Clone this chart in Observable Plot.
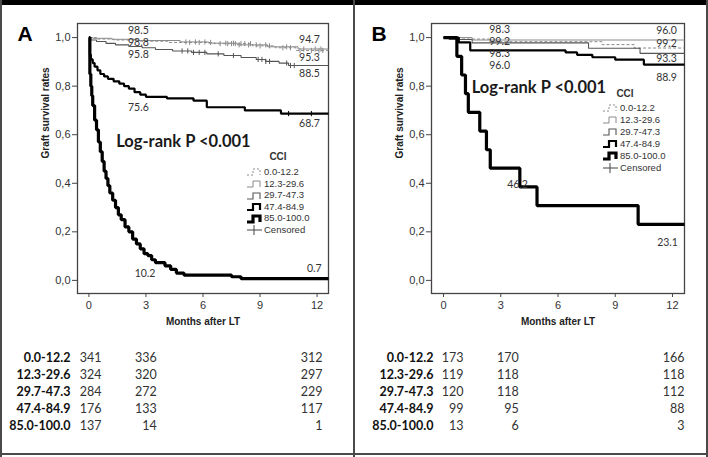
<!DOCTYPE html>
<html><head><meta charset="utf-8">
<script src="https://cdn.jsdelivr.net/npm/d3@7"></script>
<script src="https://cdn.jsdelivr.net/npm/@observablehq/plot@0.6"></script>
<style>
body{margin:0;background:#fff;}
#wrap{position:relative;width:708px;height:457px;overflow:hidden;background:#fff;font-family:"Liberation Sans",Arial,sans-serif;}
.lg{position:absolute;font-size:9.5px;color:#333;line-height:12px;height:12px;white-space:nowrap;}
.lg svg{vertical-align:middle;margin-right:1px;}
</style></head><body><div id="wrap"></div>
<script>
// ---------- data ----------
const groups = ["0.0-12.2","12.3-29.6","29.7-47.3","47.4-84.9","85.0-100.0"];
const monthTicks = [0,3,6,9,12];
const survTicks = [0,0.2,0.4,0.6,0.8,1.0];
const riskMonths = [0,3,12];

// Panel A survival step curves (months, survival)
const aT1 = [0,0.4,1.3,2.6,4.2,6.6,8.6,9.8,10.9,12.6];
const aS1 = [1.0,0.994,0.99,0.985,0.98,0.975,0.966,0.958,0.947,0.947];
const aT2 = [0,0.2,1.2,2.5,4.8,6.3,7.8,9.4,11.0,12.6];
const aS2 = [1.0,0.997,0.993,0.988,0.982,0.977,0.97,0.962,0.953,0.953];
const aT3 = [0,0.1,0.4,0.9,1.4,2.1,2.8,3.5,4.4,5.4,6.2,7.1,8.0,8.8,9.3,10.0,10.5,12.6];
const aS3 = [1.0,0.99,0.984,0.976,0.97,0.963,0.958,0.951,0.945,0.939,0.933,0.926,0.918,0.91,0.902,0.895,0.885,0.885];
const aT4 = [0,0.05,0.1,0.2,0.3,0.45,0.6,0.8,1.0,1.3,1.6,1.85,2.1,2.4,2.7,3.0,4.1,5.5,6.2,8.2,10.1,12.6];
const aS4 = [1.0,0.93,0.91,0.895,0.88,0.865,0.85,0.84,0.83,0.82,0.81,0.80,0.79,0.775,0.765,0.756,0.75,0.74,0.713,0.70,0.687,0.687];
const aT5 = [0,0.05,0.1,0.15,0.2,0.3,0.4,0.5,0.6,0.7,0.8,0.9,1.0,1.1,1.25,1.4,1.55,1.7,1.9,2.1,2.3,2.5,2.7,2.9,3.1,3.3,3.5,4.0,4.3,4.6,5.0,7.5,8.0,12.6];
const aS5 = [1.0,0.85,0.80,0.76,0.72,0.66,0.62,0.57,0.53,0.49,0.45,0.42,0.39,0.36,0.33,0.30,0.27,0.25,0.22,0.20,0.17,0.15,0.13,0.11,0.102,0.085,0.073,0.06,0.045,0.03,0.022,0.015,0.007,0.007];
// Panel A censored times
const aC1 = [5.3,5.8,6.4,6.9,7.3,7.5,7.7,8.0,8.2,8.5,9.0,9.5,10.2,10.6,11.1,11.7,12.1,12.3];
const aC2 = [5.1,5.6,6.1,7.2,7.6,7.9,8.4,8.8,9.3,10.4,11.3,11.9,12.2];
const aC3 = [4.9,5.2,5.5,5.8,6.1,6.8,7.6,8.9,9.1,9.3,9.5,10.4,10.6,10.8];
const aC4 = [10.5,11.7];

// Panel B survival step curves
const bT1 = [0,0.6,2.4,8.3,10.0,12.63];
const bS1 = [1.0,0.994,0.983,0.971,0.957,0.957];
const bT2 = [0,1.5,12.63];
const bS2 = [1.0,0.99,0.99];
const bT3 = [0,0.3,1.5,7.6,10.3,12.63];
const bS3 = [1.0,0.992,0.978,0.956,0.935,0.935];
const bT4 = [0,0.8,1.4,6.4,7.0,7.8,9.0,10.5,12.63];
const bS4 = [1.0,0.98,0.947,0.939,0.929,0.919,0.909,0.889,0.889];
const bT5 = [0,0.7,0.95,1.15,1.3,1.9,2.25,2.45,4.0,4.9,10.2,12.63];
const bS5 = [1.0,0.923,0.846,0.769,0.692,0.615,0.538,0.462,0.385,0.308,0.231,0.231];

// Numbers at risk
const riskA = [[341,336,312],[324,320,297],[284,272,229],[176,133,117],[137,14,1]];
const riskB = [[173,170,166],[119,118,118],[120,118,112],[99,95,88],[13,6,3]];

// Annotations (text, month, survival)
const annA_text = ["98.5","98.8","95.8","75.6","10.2","94.7","95.3","88.5","68.7","0.7"];
const annA_t = [2.6,2.6,2.6,2.6,2.95,11.6,11.6,11.6,11.6,11.85];
const annA_s = [1.027,0.978,0.928,0.712,0.029,0.992,0.918,0.852,0.646,0.049];
const annB_text = ["98.3","99.2","98.3","96.0","46.2","96.0","99.2","93.3","88.9","23.1"];
const annB_t = [2.94,2.94,2.94,2.94,3.88,11.69,11.69,11.69,11.69,11.74];
const annB_s = [1.031,0.982,0.934,0.885,0.394,1.029,0.975,0.914,0.835,0.156];
const logrankText = "Log-rank P <0.001";

// ---------- styles ----------
const styles = [
  {stroke:"#8a8a8a", w:1, dash:"3,2"},
  {stroke:"#8a8a8a", w:1, dash:null},
  {stroke:"#555", w:1.1, dash:null},
  {stroke:"#000", w:2.2, dash:null},
  {stroke:"#000", w:3.2, dash:null}
];
const tickSym = {draw(ctx, size){const r=Math.sqrt(size/Math.PI); ctx.moveTo(0,-r); ctx.lineTo(0,r);}};

function survAt(ts, ss, t){let v=ss[0]; for(let i=0;i<ts.length;i++){ if(ts[i]<=t) v=ss[i]; } return v;}

const wrap = document.getElementById("wrap");
function place(el, left, top){el.style.position="absolute"; el.style.left=left+"px"; el.style.top=top+"px"; wrap.appendChild(el);}

function panel(cfg){
  const lineMarks = cfg.curves.map(([T,S],k)=>Plot.line(T.map((t,i)=>({t, s:S[i]})), {
    x:"t", y:"s", curve:"step-after", stroke:styles[k].stroke, strokeWidth:styles[k].w,
    strokeDasharray:styles[k].dash, strokeLinejoin:"miter", strokeLinecap:"butt"}));
  const censMarks = (cfg.cens||[]).map((C,k)=>Plot.dot(C.map(t=>({t, s:survAt(cfg.curves[k][0], cfg.curves[k][1], t)})), {
    x:"t", y:"s", symbol:tickSym, r:2.6, stroke:styles[k].stroke, strokeWidth:1}));
  const ann = cfg.annText.map((txt,i)=>({txt, t:cfg.annT[i], s:cfg.annS[i]}));
  const chart = Plot.plot({
    width:354, height:335,
    marginLeft:77, marginRight:cfg.mr, marginTop:23, marginBottom:42,
    style:{fontFamily:"'Liberation Sans', Arial, sans-serif", fontSize:"11px", color:"#333", background:"transparent"},
    x:{domain:cfg.xdom},
    y:{domain:[-0.054,1.058]},
    marks:[
      Plot.frame({stroke:"#444", strokeWidth:1.3}),
      Plot.axisX({ticks:monthTicks, tickSize:4, tickPadding:4, label:null, stroke:"#444", fill:"#333", fontSize:11}),
      Plot.axisY({ticks:survTicks, tickFormat:d=>d.toFixed(1).replace(".",","), tickSize:5, tickPadding:2, label:null, stroke:"#444", fill:"#333", fontSize:11}),
      ...lineMarks,
      ...censMarks,
      Plot.text(ann, {x:"t", y:"s", text:"txt", fontFamily:"Lato", fontSize:10.5, fill:"#333"}),
      Plot.text([logrankText], {x:cfg.lrT, y:cfg.lrS, fontFamily:"Lato", fontWeight:"bold", fontSize:16.5, fill:"#1a1a1a"}),
      Plot.text(["Graft survival rates"], {frameAnchor:"left", dx:-32, rotate:-90, fontWeight:"bold", fontSize:10, fill:"#222"}),
      Plot.text(["Months after LT"], {frameAnchor:"bottom", dy:31, fontWeight:"bold", fontSize:10, fill:"#222"}),
      Plot.text([cfg.letter], {frameAnchor:"top-left", dx:-60, dy:3, textAnchor:"start", fontWeight:"bold", fontSize:21, fill:"#000"})
    ]
  });
  place(chart, cfg.left, 0);

  const rows = [];
  cfg.risk.forEach((r,gi)=>r.forEach((n,mi)=>rows.push({g:groups[gi], m:riskMonths[mi], n})));
  const table = Plot.plot({
    width:354, height:120,
    marginLeft:cfg.tl, marginRight:354-cfg.tl-221, marginTop:17, marginBottom:16,
    style:{background:"transparent"},
    x:{domain:[0,12], axis:null},
    y:{type:"point", domain:groups, axis:null},
    marks:[
      Plot.text(rows, {x:"m", y:"g", text:d=>String(d.n), textAnchor:"end", fontFamily:"Lato", fontSize:12.5, fill:"#333"}),
      Plot.text(groups, {y:d=>d, frameAnchor:"left", dx:-cfg.tp, textAnchor:"end", fontFamily:"Lato", fontWeight:"bold", fontSize:12.5, fill:"#111"})
    ]
  });
  place(table, cfg.left, 330);

  // legend
  const cci = document.createElement("div");
  cci.className="lg"; cci.style.fontWeight="bold"; cci.style.fontSize="10px"; cci.textContent="CCI";
  cci.style.width="30px"; cci.style.textAlign="center";
  place(cci, cfg.left+cfg.lgCx-15, cfg.lgCy-6);
  const names = groups.concat(["Censored"]);
  names.forEach((nm,i)=>{
    const d = document.createElement("div"); d.className="lg";
    let icon;
    if(i<5){
      const st = styles[i];
      icon = `<svg width="17" height="10"><path d="M1,8H7V2H14V8" fill="none" stroke="${st.stroke}" stroke-width="${st.w}" ${st.dash?`stroke-dasharray="2,2"`:""}/></svg>`;
    } else {
      icon = `<svg width="17" height="10"><path d="M1,5H16M8,0V10" fill="none" stroke="#444" stroke-width="1"/></svg>`;
    }
    d.innerHTML = icon + `<span>${nm}</span>`;
    place(d, cfg.left+cfg.lgX, cfg.lgY + i*cfg.lgDy - 6);
  });
}

panel({left:0, letter:"A", mr:26, xdom:[-0.6,12.6],
  curves:[[aT1,aS1],[aT2,aS2],[aT3,aS3],[aT4,aS4],[aT5,aS5]],
  cens:[aC1,aC2,aC3,aC4],
  annText:annA_text, annT:annA_t, annS:annA_s, lrT:4.97, lrS:0.572,
  risk:riskA, tl:101, tp:31,
  lgCx:278, lgCy:157, lgX:246, lgY:172, lgDy:11.6});
panel({left:354, letter:"B", mr:24, xdom:[-0.63,12.63],
  curves:[[bT1,bS1],[bT2,bS2],[bT3,bS3],[bT4,bS4],[bT5,bS5]],
  cens:[],
  annText:annB_text, annT:annB_t, annS:annB_s, lrT:5.0, lrS:0.794,
  risk:riskB, tl:109, tp:30,
  lgCx:271, lgCy:94, lgX:248, lgY:108, lgDy:12});

// frame borders
function bar(l,t,w,h,c){const d=document.createElement("div"); d.style.width=w+"px"; d.style.height=h+"px"; d.style.background=c; place(d,l,t);}
bar(0,0,708,5,"#000");
bar(0,0,2,457,"#4a4a4a");
bar(706,0,2,457,"#4a4a4a");
bar(353,0,2,457,"#4a4a4a");
bar(0,453,708,2,"#4a4a4a");
</script>
</body></html>
